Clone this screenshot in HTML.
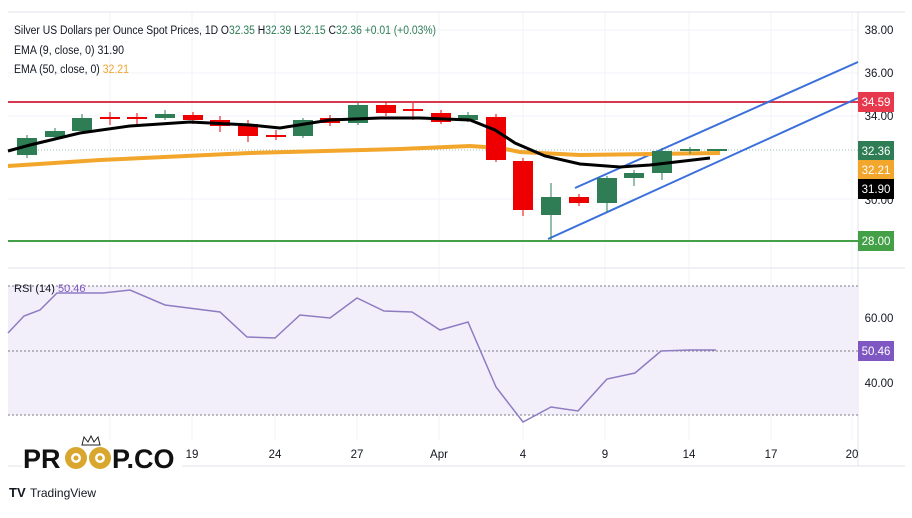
<!DOCTYPE html>
<html><head><meta charset="utf-8"><style>
body{margin:0;background:#fff;font-family:"Liberation Sans",sans-serif;}
svg text{font-family:"Liberation Sans",sans-serif;}
</style></head><body>
<svg width="912" height="513" viewBox="0 0 912 513" xmlns="http://www.w3.org/2000/svg">
<rect width="912" height="513" fill="#fff"/>
<g stroke="#f0f3fa" stroke-width="1">
<line x1="110" y1="12" x2="110" y2="440"/><line x1="192" y1="12" x2="192" y2="440"/><line x1="275" y1="12" x2="275" y2="440"/><line x1="357" y1="12" x2="357" y2="440"/><line x1="439" y1="12" x2="439" y2="440"/><line x1="523" y1="12" x2="523" y2="440"/><line x1="605" y1="12" x2="605" y2="440"/><line x1="689" y1="12" x2="689" y2="440"/><line x1="771" y1="12" x2="771" y2="440"/><line x1="852" y1="12" x2="852" y2="440"/>
<line x1="8" y1="30" x2="858" y2="30"/><line x1="8" y1="73" x2="858" y2="73"/><line x1="8" y1="116" x2="858" y2="116"/><line x1="8" y1="199" x2="858" y2="199"/>
<line x1="8" y1="318" x2="858" y2="318"/><line x1="8" y1="383" x2="858" y2="383"/>
</g>
<line x1="8" y1="12" x2="905" y2="12" stroke="#e0e3eb"/>
<line x1="8" y1="268" x2="905" y2="268" stroke="#e0e3eb"/>
<line x1="8" y1="466" x2="905" y2="466" stroke="#e0e3eb"/>
<line x1="858" y1="12" x2="858" y2="466" stroke="#e0e3eb"/>
<line x1="8" y1="102" x2="858" y2="102" stroke="#d6394d" stroke-width="2"/>
<line x1="8" y1="241" x2="858" y2="241" stroke="#43a047" stroke-width="2"/>
<line x1="8" y1="150" x2="858" y2="150" stroke="#9bbfae" stroke-dasharray="1,2"/>
<line x1="575" y1="188" x2="858" y2="62" stroke="#3a6fdc" stroke-width="2"/>
<line x1="548" y1="239" x2="858" y2="98" stroke="#3a6fdc" stroke-width="2"/>
<polyline fill="none" stroke="#f2a62b" stroke-width="4" points="8,166 100,160 250,153 400,149 470,146 500,148 520,152 580,155 720,153"/>
<g stroke-width="1">
<line x1="27" y1="135" x2="27" y2="158" stroke="#2e7d55"/><rect x="17" y="138" width="20" height="17" fill="#2e7d55"/>
<line x1="55" y1="128" x2="55" y2="140" stroke="#2e7d55"/><rect x="45" y="131" width="20" height="6" fill="#2e7d55"/>
<line x1="82" y1="114" x2="82" y2="134" stroke="#2e7d55"/><rect x="72" y="118" width="20" height="13" fill="#2e7d55"/>
<line x1="110" y1="112" x2="110" y2="125" stroke="#e00"/><rect x="100" y="117" width="20" height="2" fill="#e00"/>
<line x1="137" y1="113" x2="137" y2="126" stroke="#e00"/><rect x="127" y="117" width="20" height="2" fill="#e00"/>
<line x1="165" y1="110" x2="165" y2="120" stroke="#2e7d55"/><rect x="155" y="114" width="20" height="4" fill="#2e7d55"/>
<line x1="193" y1="112" x2="193" y2="124" stroke="#e00"/><rect x="183" y="115" width="20" height="5" fill="#e00"/>
<line x1="220" y1="116" x2="220" y2="132" stroke="#e00"/><rect x="210" y="120" width="20" height="6" fill="#e00"/>
<line x1="248" y1="120" x2="248" y2="142" stroke="#e00"/><rect x="238" y="124" width="20" height="12" fill="#e00"/>
<line x1="276" y1="130" x2="276" y2="140" stroke="#e00"/><rect x="266" y="135" width="20" height="2" fill="#e00"/>
<line x1="303" y1="118" x2="303" y2="138" stroke="#2e7d55"/><rect x="293" y="120" width="20" height="16" fill="#2e7d55"/>
<line x1="330" y1="115" x2="330" y2="126" stroke="#e00"/><rect x="320" y="118" width="20" height="5" fill="#e00"/>
<line x1="358" y1="102" x2="358" y2="125" stroke="#2e7d55"/><rect x="348" y="105" width="20" height="18" fill="#2e7d55"/>
<line x1="386" y1="102" x2="386" y2="116" stroke="#e00"/><rect x="376" y="105" width="20" height="8" fill="#e00"/>
<line x1="413" y1="103" x2="413" y2="120" stroke="#e00"/><rect x="403" y="109" width="20" height="2" fill="#e00"/>
<line x1="441" y1="110" x2="441" y2="124" stroke="#e00"/><rect x="431" y="113" width="20" height="9" fill="#e00"/>
<line x1="468" y1="112" x2="468" y2="122" stroke="#2e7d55"/><rect x="458" y="115" width="20" height="5" fill="#2e7d55"/>
<line x1="496" y1="114" x2="496" y2="162" stroke="#e00"/><rect x="486" y="117" width="20" height="43" fill="#e00"/>
<line x1="523" y1="158" x2="523" y2="216" stroke="#e00"/><rect x="513" y="161" width="20" height="49" fill="#e00"/>
<line x1="551" y1="183" x2="551" y2="240" stroke="#2e7d55"/><rect x="541" y="197" width="20" height="18" fill="#2e7d55"/>
<line x1="579" y1="194" x2="579" y2="206" stroke="#e00"/><rect x="569" y="197" width="20" height="6" fill="#e00"/>
<line x1="607" y1="176" x2="607" y2="212" stroke="#2e7d55"/><rect x="597" y="178" width="20" height="25" fill="#2e7d55"/>
<line x1="634" y1="170" x2="634" y2="186" stroke="#2e7d55"/><rect x="624" y="173" width="20" height="5" fill="#2e7d55"/>
<line x1="662" y1="148" x2="662" y2="180" stroke="#2e7d55"/><rect x="652" y="151" width="20" height="22" fill="#2e7d55"/>
<line x1="690" y1="147" x2="690" y2="154" stroke="#2e7d55"/><rect x="680" y="149" width="20" height="2" fill="#2e7d55"/>
<rect x="707" y="149" width="20" height="2" fill="#2e7d55"/>
</g>
<polyline fill="none" stroke="#000" stroke-width="3" points="8,151 30,145 80,133 130,126 190,122 250,125 280,128 330,120 380,118 420,118 470,120 495,130 515,143 545,156 580,164 620,167 650,165 710,158"/>
<text x="14" y="34" font-size="11.5" fill="#131722" textLength="422" lengthAdjust="spacingAndGlyphs">Silver US Dollars per Ounce Spot Prices, 1D <tspan>O</tspan><tspan fill="#2e7d55">32.35</tspan> H<tspan fill="#2e7d55">32.39</tspan> L<tspan fill="#2e7d55">32.15</tspan> C<tspan fill="#2e7d55">32.36</tspan> <tspan fill="#2e7d55">+0.01 (+0.03%)</tspan></text>
<text x="14" y="54" font-size="11.5" fill="#131722" textLength="110" lengthAdjust="spacingAndGlyphs">EMA (9, close, 0) 31.90</text>
<text x="14" y="73" font-size="11.5" fill="#131722" textLength="115" lengthAdjust="spacingAndGlyphs">EMA (50, close, 0) <tspan fill="#f2a62b">32.21</tspan></text>
<g font-size="11.5" fill="#131722" text-anchor="middle">
<text x="879" y="34">38.00</text><text x="879" y="77">36.00</text><text x="879" y="120">34.00</text><text x="879" y="204">30.00</text>
</g>
<rect x="858" y="92" width="36" height="20" fill="#e6394d"/><text x="876" y="106" font-size="11.5" fill="#fff" text-anchor="middle">34.59</text>
<rect x="858" y="141" width="36" height="19" fill="#2e7d55"/><text x="876" y="155" font-size="11.5" fill="#fff" text-anchor="middle">32.36</text>
<rect x="858" y="160" width="36" height="19" fill="#f2a62b"/><text x="876" y="174" font-size="11.5" fill="#fff" text-anchor="middle">32.21</text>
<rect x="858" y="179" width="36" height="20" fill="#000"/><text x="876" y="193" font-size="11.5" fill="#fff" text-anchor="middle">31.90</text>
<rect x="858" y="231" width="36" height="20" fill="#43a047"/><text x="876" y="245" font-size="11.5" fill="#fff" text-anchor="middle">28.00</text>
<rect x="8" y="286" width="850" height="129" fill="#f3effa"/>
<g stroke="#787b86" stroke-dasharray="2,2"><line x1="8" y1="286" x2="858" y2="286"/><line x1="8" y1="351" x2="858" y2="351"/><line x1="8" y1="415" x2="858" y2="415"/></g>
<polyline fill="none" stroke="#8e7cc3" stroke-width="1.5" points="8,333 24,316 40,310 57,293 80,293 103,293 130,290 165,305 220,312 247,337 275,338 300,315 330,318 357,298 384,311 412,312 440,330 468,322 496,387 523,422 551,407 578,411 607,379 635,373 661,351 690,350 716,350"/>
<text x="14" y="292" font-size="11" fill="#131722">RSI (14) <tspan fill="#7e57c2">50.46</tspan></text>
<text x="879" y="322" font-size="11.5" fill="#131722" text-anchor="middle">60.00</text>
<text x="879" y="387" font-size="11.5" fill="#131722" text-anchor="middle">40.00</text>
<rect x="858" y="341" width="36" height="20" fill="#7e57c2"/><text x="876" y="355" font-size="11.5" fill="#fff" text-anchor="middle">50.46</text>
<g font-size="11.5" fill="#131722" text-anchor="middle">
<text x="110" y="458">14</text><text x="192" y="458">19</text><text x="275" y="458">24</text><text x="357" y="458">27</text><text x="439" y="458">Apr</text><text x="523" y="458">4</text><text x="605" y="458">9</text><text x="689" y="458">14</text><text x="771" y="458">17</text><text x="852" y="458">20</text>
</g>
<rect x="22" y="440" width="160" height="30" fill="#fff"/>
<text x="23" y="468" font-size="27" font-weight="bold" fill="#111">PR</text>
<circle cx="76" cy="458" r="11" fill="#d9a62e"/><circle cx="76" cy="458" r="5" fill="#fff"/><circle cx="76" cy="458" r="2.5" fill="#d9a62e"/>
<circle cx="100" cy="458" r="11" fill="#d9a62e"/><circle cx="100" cy="458" r="5" fill="#fff"/><circle cx="100" cy="458" r="2.5" fill="#d9a62e"/>
<path d="M82 445 L84 437 L88 442 L91 436 L94 442 L98 437 L100 445Z" fill="none" stroke="#222" stroke-width="1"/>
<text x="112" y="468" font-size="27" font-weight="bold" fill="#111">P.CO</text>
<text x="9" y="497" font-size="13" font-weight="bold" fill="#131722">TV</text>
<text x="30" y="497" font-size="12" fill="#131722">TradingView</text>
</svg>
</body></html>
